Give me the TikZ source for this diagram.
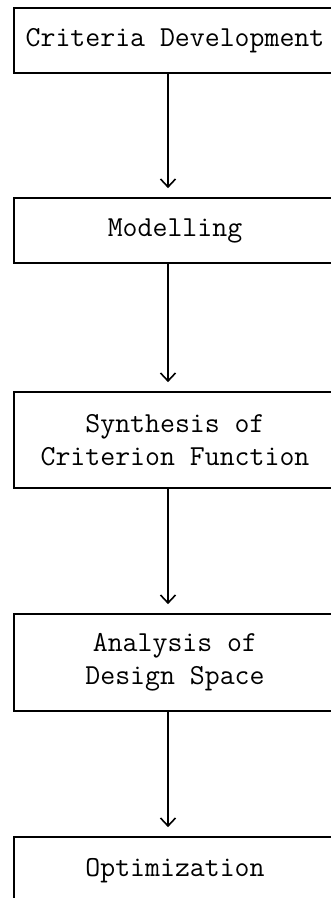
\documentclass[tikz,border=0pt]{standalone}
\usetikzlibrary{arrows.meta}
\begin{document}
\begin{tikzpicture}[x=1pt,y=-1pt,
  stagebox/.style={draw, line width=1.7pt, inner sep=0pt, minimum width=322pt,
    align=center, font=\ttfamily\fontsize{29}{33}\selectfont},
  flowarrow/.style={line width=1.6pt, -{Straight Barb[length=8pt,width=15pt,line width=1.6pt]}}]
\useasboundingbox (0,0) rectangle (331,898);
\node[stagebox, minimum height=65pt] (b1) at (175,40.5) {Criteria Development};
\node[stagebox, minimum height=65pt] (b2) at (175,230.5) {Modelling};
\node[stagebox, minimum height=96pt] (b3) at (175,440) {Synthesis of\\Criterion Function};
\node[stagebox, minimum height=97pt] (b4) at (175,662.5) {Analysis of\\Design Space};
\node[stagebox, minimum height=68pt] (b5) at (175,871) {Optimization};
\coordinate (ax) at (168,0);
\draw[flowarrow] (b1.south -| ax) -- ([yshift=9pt]b2.north -| ax);
\draw[flowarrow] (b2.south -| ax) -- ([yshift=9pt]b3.north -| ax);
\draw[flowarrow] (b3.south -| ax) -- ([yshift=9pt]b4.north -| ax);
\draw[flowarrow] (b4.south -| ax) -- ([yshift=9pt]b5.north -| ax);
\end{tikzpicture}
\end{document}
